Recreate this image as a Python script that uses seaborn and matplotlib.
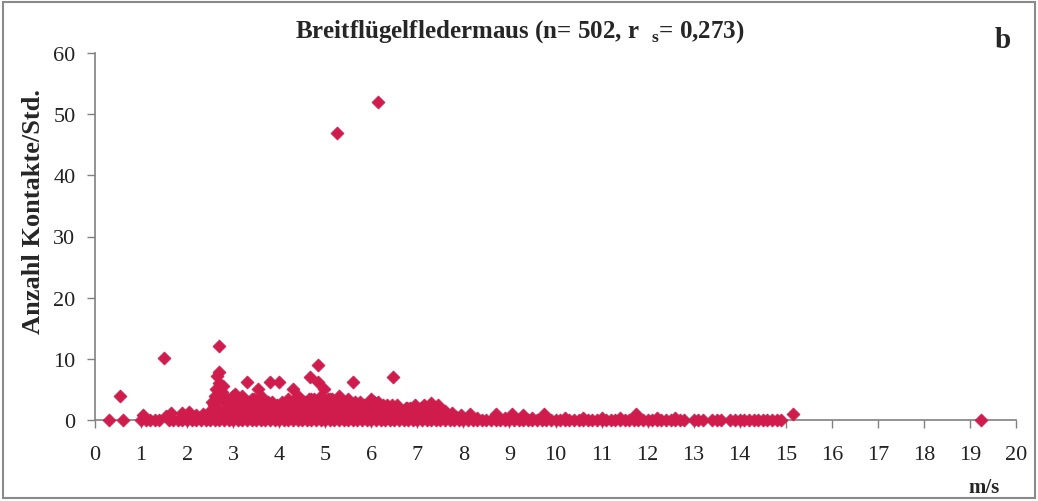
import matplotlib
matplotlib.use("Agg")
import matplotlib.pyplot as plt
import seaborn as sns
import pandas as pd
from matplotlib.patches import Rectangle

# ---------------- data ----------------
# hours with zero contacts (wind speed in m/s)
zero_wind = [0.3, 0.6, 1.0, 1.1, 1.2, 1.3, 1.4, 1.6, 1.7, 1.8, 1.9, 2.0, 2.1, 2.2, 2.3, 2.4,
             2.5, 2.6, 2.7, 2.8, 2.9, 3.0, 3.1, 3.2, 3.3, 3.4, 3.5, 3.6, 3.7, 3.8, 3.9, 4.0,
             4.1, 4.2, 4.3, 4.4, 4.5, 4.6, 4.7, 4.8, 4.9, 5.0, 5.1, 5.2, 5.3, 5.4, 5.5, 5.6,
             5.7, 5.8, 5.9, 6.0, 6.1, 6.2, 6.3, 6.4, 6.5, 6.6, 6.7, 6.8, 6.9, 7.0, 7.1, 7.2,
             7.3, 7.4, 7.5, 7.6, 7.7, 7.8, 7.9, 8.0, 8.1, 8.2, 8.3, 8.4, 8.5, 8.6, 8.7, 8.8,
             8.9, 9.0, 9.1, 9.2, 9.3, 9.4, 9.5, 9.6, 9.7, 9.8, 9.9, 10.0, 10.1, 10.2, 10.3,
             10.4, 10.5, 10.6, 10.7, 10.8, 10.9, 11.0, 11.1, 11.2, 11.3, 11.4, 11.5, 11.6,
             11.7, 11.8, 11.9, 12.0, 12.1, 12.2, 12.3, 12.4, 12.5, 12.6, 12.7, 12.8, 13.0,
             13.1, 13.2, 13.4, 13.5, 13.6, 13.8, 13.9, 14.0, 14.1, 14.2, 14.3, 14.4, 14.5,
             14.6, 14.7, 14.8, 14.9, 19.25]
zero_contacts = [0.0] * len(zero_wind)

# low activity band (about 0.3 - 1 contacts/h)
low_wind = [1.05, 1.55, 1.65, 1.9, 2.05, 2.2, 2.35, 2.45, 2.55, 2.65, 2.75, 2.85, 2.95,
            3.05, 3.15, 3.25, 3.35, 3.45, 3.55, 3.65, 3.75, 3.85, 3.95, 4.05, 4.15, 4.25,
            4.35, 4.45, 4.55, 4.65, 4.75, 4.85, 4.95, 5.05, 5.15, 5.25, 5.35, 5.45, 5.55,
            5.65, 5.75, 5.85, 5.95, 6.05, 6.15, 6.25, 6.35, 6.45, 6.55, 6.65, 6.75, 6.85,
            6.95, 7.05, 7.15, 7.25, 7.35, 7.45, 7.55, 7.65, 7.75, 7.85, 7.95, 8.15, 8.3,
            8.7, 8.9, 9.05, 9.3, 9.5, 9.75, 10.2, 10.6, 11.0, 11.4, 11.75, 12.2, 12.6, 15.15]
low_contacts = [0.8, 0.6, 1.2, 1.2, 1.3, 0.8, 1.0, 0.6, 0.5, 1.0, 0.5, 1.0, 0.5,
                1.0, 0.5, 1.0, 0.5, 1.0, 0.5, 1.0, 0.5, 1.0, 0.5, 1.0, 0.5, 1.0,
                0.5, 1.0, 0.5, 1.0, 0.5, 1.0, 0.5, 1.0, 0.5, 1.0, 0.5, 1.0, 0.5,
                1.0, 0.5, 1.0, 0.5, 1.0, 0.5, 1.0, 0.5, 1.0, 0.5, 1.0, 0.5, 1.0,
                0.5, 1.0, 0.5, 1.0, 0.5, 1.0, 0.5, 1.0, 0.8, 0.5, 0.8, 1.0, 0.3,
                1.0, 0.3, 1.0, 0.8, 0.3, 1.0, 0.3, 0.3, 0.3, 0.3, 0.9, 0.3, 0.3, 1.0]

# medium band (about 1 - 2.5 contacts/h)
mid_wind = [2.5, 2.65, 2.8, 2.95, 3.1, 3.25, 3.4, 3.55, 3.7, 3.85, 4.0, 4.15, 4.3, 4.45,
            4.6, 4.75, 4.9, 5.05, 5.2, 5.35, 5.5, 5.65, 5.8, 5.95, 6.1, 6.25, 6.4, 6.55,
            6.7, 6.85, 7.0, 7.15, 7.3, 7.45, 7.6, 7.75,
            2.58, 2.72, 2.88, 3.02, 3.18, 3.32, 3.48, 3.62, 3.78, 3.92, 4.08, 4.22, 4.38,
            4.52, 4.68, 4.82, 4.98, 5.12, 5.28, 5.42, 5.58, 5.72, 5.88, 6.02, 6.18, 6.32,
            6.48, 6.62, 6.78, 6.92, 7.08, 7.22, 7.38, 7.52]
mid_contacts = [1.5, 2.0, 1.5, 2.0, 1.5, 2.0, 1.5, 2.0, 1.5, 2.0, 1.5, 2.0, 1.5, 2.0,
                1.5, 2.0, 1.5, 2.0, 1.5, 2.0, 1.5, 2.0, 1.5, 2.0, 1.5, 2.0, 1.5, 2.0,
                1.5, 2.0, 1.5, 2.0, 1.5, 2.0, 1.5, 1.2,
                2.5, 1.0, 2.5, 1.0, 2.5, 1.0, 2.5, 1.0, 2.5, 1.0, 2.5, 1.0, 2.5,
                1.0, 2.5, 1.0, 2.5, 1.0, 2.5, 1.0, 2.5, 1.0, 2.0, 1.0, 2.0, 1.0,
                2.0, 1.0, 2.0, 1.0, 2.0, 1.0, 2.0, 1.0]

# upper band (about 2.5 - 3.5 contacts/h)
high_wind = [2.55, 2.75, 2.95, 3.15, 3.35, 3.55, 3.75, 3.95, 4.15, 4.35, 4.55, 4.75, 4.95,
             5.15, 5.35, 5.55, 5.75, 5.95, 6.15, 6.35, 6.55, 6.75, 6.95, 7.15, 7.3, 7.45,
             2.65, 2.85, 3.05, 3.25, 3.45, 3.65, 3.85, 4.05, 4.25, 4.45, 4.65, 4.85, 5.05,
             5.25, 5.45, 5.65, 5.85, 6.05, 6.25, 6.45]
high_contacts = [3.0, 3.5, 3.0, 3.5, 3.0, 2.5, 3.0, 2.5, 3.0, 2.5, 3.0, 3.5, 3.0,
                 3.5, 3.0, 2.5, 3.0, 2.5, 3.0, 2.5, 2.5, 2.0, 2.5, 2.5, 2.8, 2.5,
                 3.5, 3.0, 3.5, 3.0, 3.5, 3.0, 3.0, 3.0, 3.0, 3.0, 3.5, 3.0, 3.5,
                 3.0, 3.0, 3.0, 2.5, 3.0, 2.5, 2.5]

# scattered higher values
peak_wind = [0.55, 1.5, 2.6, 2.65, 2.7, 2.7, 2.75, 2.8, 3.0, 3.05, 3.2, 3.4, 3.6, 4.2,
             4.4, 4.7, 4.9, 5.1, 5.3, 5.5, 6.0, 3.3, 3.55, 3.8, 4.0, 4.3, 4.67, 4.85,
             4.85, 4.98, 5.6, 6.48, 5.25, 6.15, 2.62, 2.78, 2.7]
peak_contacts = [3.9, 10.1, 4.0, 7.2, 7.9, 12.1, 4.5, 4.0, 4.0, 4.3, 4.0, 3.5, 4.0, 3.5,
                 4.0, 3.5, 4.0, 3.5, 4.0, 3.5, 3.5, 6.2, 5.0, 6.2, 6.2, 5.0, 7.0, 9.0,
                 6.2, 5.0, 6.2, 7.0, 47.0, 52.0, 5.0, 5.5, 6.0]

x_ticks = list(range(0, 21))
y_ticks = [0, 10, 20, 30, 40, 50, 60]

# ---------------- plotting ----------------
df = pd.DataFrame({
    "wind": zero_wind + low_wind + mid_wind + high_wind + peak_wind,
    "contacts": zero_contacts + low_contacts + mid_contacts + high_contacts + peak_contacts,
})

sns.set_theme(style="white")
plt.rcParams["font.family"] = ["Liberation Serif", "DejaVu Serif"]
plt.rcParams["mathtext.fontset"] = "custom"
plt.rcParams["mathtext.rm"] = "Liberation Serif:bold"

fig = plt.figure(figsize=(10.38, 5.02), dpi=100)
ax = fig.add_axes([95 / 1038, 1 - 421 / 502, (1016 - 95) / 1038, (421 - 54) / 502])

sns.scatterplot(data=df, x="wind", y="contacts", ax=ax, marker="D", s=44,
                color="#D01C4C", edgecolor="#D01C4C", linewidth=0.5, clip_on=False, zorder=3)

ax.set_xlim(0, 20)
ax.set_ylim(0, 60)
ax.set_xticks(x_ticks)
ax.set_yticks(y_ticks)
ax.set_xticklabels([str(v) for v in x_ticks], fontsize=16)
ax.set_yticklabels([str(v) for v in y_ticks], fontsize=16)
ax.tick_params(axis="both", direction="out", length=6, width=1, color="#808080",
               bottom=True, left=True, pad=8, labelcolor="#222222")
ax.tick_params(axis="x", pad=12)
for side in ["top", "right"]:
    ax.spines[side].set_visible(False)
for side in ["left", "bottom"]:
    ax.spines[side].set_color("#808080")
    ax.spines[side].set_linewidth(1.2)

ax.set_xlabel("")
ax.set_ylabel("Anzahl Kontakte/Std.", fontsize=19, fontweight="bold")
ax.yaxis.set_label_coords(-0.054, 0.57)

fig.text(520 / 1038, 1 - 32 / 502,
         r"Breitflügelfledermaus (n= 502, r  $_{\mathregular{s}}$= 0,273)",
         ha="center", va="center", fontsize=18, fontweight="bold")
fig.text(1003 / 1038, 1 - 40 / 502, "b", ha="center", va="center",
         fontsize=21, fontweight="bold")
fig.text(984 / 1038, 1 - 488 / 502, "m/s", ha="center", va="center",
         fontsize=15, fontweight="bold")

fig.patches.append(Rectangle((3 / 1038, 3 / 502), 1 - 6 / 1038, 1 - 6 / 502,
                             transform=fig.transFigure, fill=False,
                             edgecolor="#8a8a8a", linewidth=1.5))

fig.savefig("out.png", dpi=100, facecolor="white")
